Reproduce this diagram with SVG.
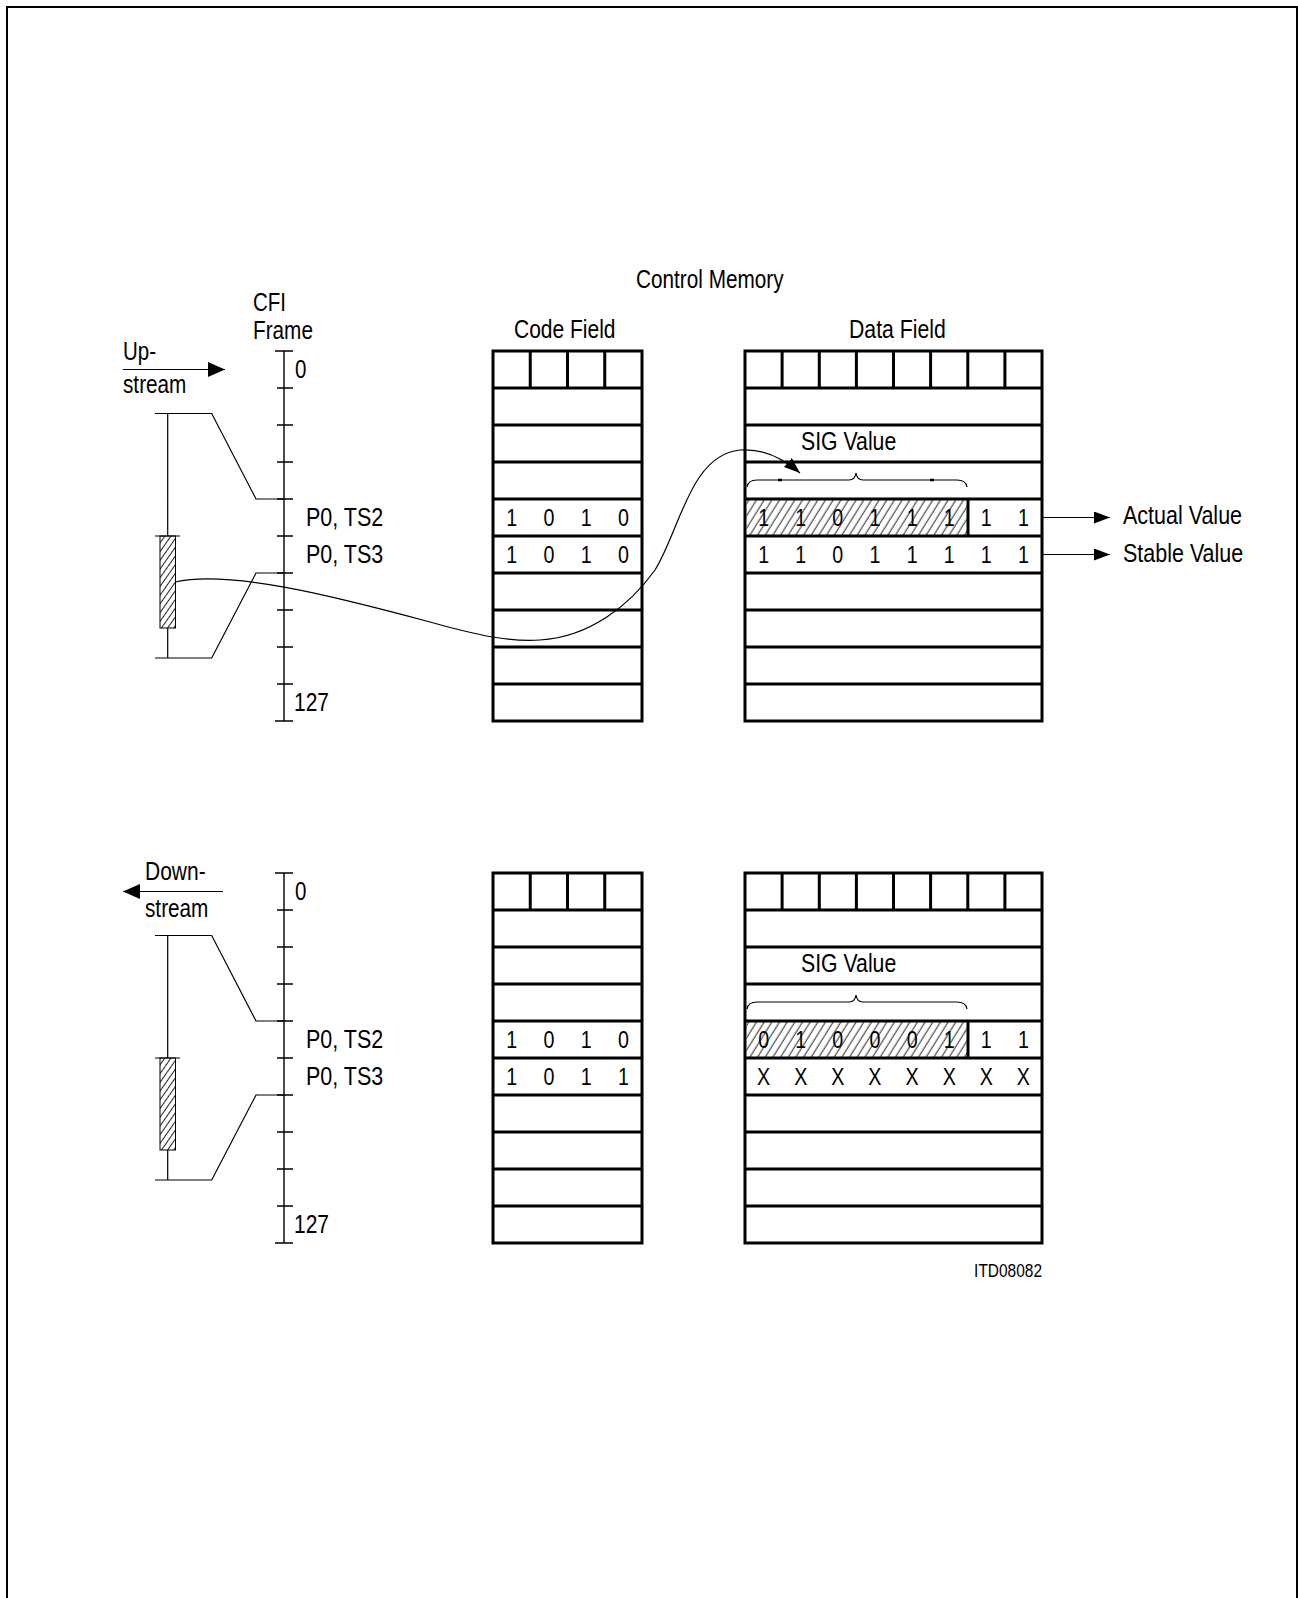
<svg xmlns="http://www.w3.org/2000/svg" width="1298" height="1598" viewBox="0 0 1298 1598">
<style>
.t{font-family:'Liberation Sans',Arial,sans-serif;font-size:25px;fill:#000}
.d{font-family:'Liberation Sans',Arial,sans-serif;font-size:24px;fill:#000;text-anchor:middle}
.box{fill:#fff;stroke:#000;stroke-width:3}
.grid{stroke:#000;stroke-width:3;fill:none}
.thin{stroke:#000;stroke-width:1.2;fill:none}
.ax{stroke:#000;stroke-width:1.4;fill:none}
</style>
<defs>
<pattern id="hatch" patternUnits="userSpaceOnUse" width="6.5" height="6.5" patternTransform="rotate(32)">
<line x1="3" y1="0" x2="3" y2="6.5" stroke="#111" stroke-width="0.9"/>
</pattern>
<pattern id="hatch2" patternUnits="userSpaceOnUse" width="5" height="5" patternTransform="rotate(35)">
<line x1="2.5" y1="0" x2="2.5" y2="5" stroke="#222" stroke-width="1"/>
</pattern>
<marker id="arr" markerUnits="userSpaceOnUse" markerWidth="16" markerHeight="12" refX="16" refY="6" orient="auto">
<path d="M0,0 L16,6 L0,12 z" fill="#000"/>
</marker>
<marker id="arrL" markerUnits="userSpaceOnUse" markerWidth="17" markerHeight="15" refX="17" refY="7.5" orient="auto">
<path d="M0,0 L17,7.5 L0,15 z" fill="#000"/>
</marker>
</defs>
<rect width="1298" height="1598" fill="#fff"/>
<path id="frame" d="M7,1610 V7 H1297 V1610" fill="none" stroke="#000" stroke-width="2"/>

<g id="title">
<text class="t" transform="translate(636,288) scale(.83,1)">Control Memory</text>
</g>

<!-- ===== Upper section ===== -->
<g id="cfi-frame-up">
<text class="t" transform="translate(253,311) scale(.82,1)">CFI</text>
<text class="t" transform="translate(253,339) scale(.83,1)">Frame</text>
<path class="ax" d="M284,351 V721 M275,351 H293 M275,721 H293 M277,388 H293 M277,425 H293 M277,462 H293 M277,499 H293 M277,536 H293 M277,573 H293 M277,610 H293 M277,647 H293 M277,684 H293"/>
<text class="t" transform="translate(295,378) scale(.82,1)">0</text>
<text class="t" transform="translate(294,711) scale(.84,1)">127</text>
<text class="t" transform="translate(306,526) scale(.86,1)">P0, TS2</text>
<text class="t" transform="translate(306,563) scale(.86,1)">P0, TS3</text>
<rect x="160" y="536" width="15.5" height="92" fill="url(#hatch2)" stroke="#000" stroke-width="1"/>
</g>
<g id="upstream-label">
<text class="t" transform="translate(123,360) scale(.82,1)">Up-</text>
<text class="t" transform="translate(123,393) scale(.83,1)">stream</text>
</g>

<g id="code-field-up">
<text class="t" transform="translate(514,338) scale(.84,1)">Code Field</text>
<rect class="box" x="493" y="351" width="149" height="370"/>
<path class="grid" d="M493,388 H642 M493,425 H642 M493,462 H642 M493,499 H642 M493,536 H642 M493,573 H642 M493,610 H642 M493,647 H642 M493,684 H642 M530.25,351 V388 M567.5,351 V388 M604.75,351 V388"/>
<text class="d" transform="translate(511.6,526) scale(.82,1)">1</text><text class="d" transform="translate(548.9,526) scale(.82,1)">0</text><text class="d" transform="translate(586.1,526) scale(.82,1)">1</text><text class="d" transform="translate(623.4,526) scale(.82,1)">0</text>
<text class="d" transform="translate(511.6,563) scale(.82,1)">1</text><text class="d" transform="translate(548.9,563) scale(.82,1)">0</text><text class="d" transform="translate(586.1,563) scale(.82,1)">1</text><text class="d" transform="translate(623.4,563) scale(.82,1)">0</text>
</g>

<g id="data-field-up">
<text class="t" transform="translate(849,338) scale(.85,1)">Data Field</text>
<rect class="box" x="745" y="351" width="297" height="370"/>
<rect x="746.5" y="499" width="221.5" height="37" fill="url(#hatch)"/>
<path class="grid" d="M745,388 H1042 M745,425 H1042 M745,462 H1042 M745,499 H1042 M745,536 H1042 M745,573 H1042 M745,610 H1042 M745,647 H1042 M745,684 H1042 M782.1,351 V388 M819.3,351 V388 M856.4,351 V388 M893.5,351 V388 M930.6,351 V388 M967.8,351 V388 M1004.9,351 V388 M968,499 V536"/>
<text class="t" transform="translate(801,450) scale(.85,1)">SIG Value</text>
<path class="thin" d="M747,487 Q748,480 757,480 H849 Q855,480 856,473 Q857,480 863,480 H957 Q966,480 967,487"/>
<path d="M778,480 H782 M930,480 H934" stroke="#000" stroke-width="2.5"/>
<text class="d" transform="translate(763.6,526) scale(.82,1)">1</text><text class="d" transform="translate(800.7,526) scale(.82,1)">1</text><text class="d" transform="translate(837.8,526) scale(.82,1)">0</text><text class="d" transform="translate(874.9,526) scale(.82,1)">1</text><text class="d" transform="translate(912.1,526) scale(.82,1)">1</text><text class="d" transform="translate(949.2,526) scale(.82,1)">1</text><text class="d" transform="translate(986.3,526) scale(.82,1)">1</text><text class="d" transform="translate(1023.4,526) scale(.82,1)">1</text>
<text class="d" transform="translate(763.6,563) scale(.82,1)">1</text><text class="d" transform="translate(800.7,563) scale(.82,1)">1</text><text class="d" transform="translate(837.8,563) scale(.82,1)">0</text><text class="d" transform="translate(874.9,563) scale(.82,1)">1</text><text class="d" transform="translate(912.1,563) scale(.82,1)">1</text><text class="d" transform="translate(949.2,563) scale(.82,1)">1</text><text class="d" transform="translate(986.3,563) scale(.82,1)">1</text><text class="d" transform="translate(1023.4,563) scale(.82,1)">1</text>
</g>

<g id="outputs">
<text class="t" transform="translate(1123,524) scale(.86,1)">Actual Value</text>
<text class="t" transform="translate(1123,562) scale(.86,1)">Stable Value</text>
</g>

<!-- ===== Lower section ===== -->
<g id="cfi-frame-down" transform="translate(0,522)">
<path class="ax" d="M284,351 V721 M275,351 H293 M275,721 H293 M277,388 H293 M277,425 H293 M277,462 H293 M277,499 H293 M277,536 H293 M277,573 H293 M277,610 H293 M277,647 H293 M277,684 H293"/>
<text class="t" transform="translate(295,378) scale(.82,1)">0</text>
<text class="t" transform="translate(294,711) scale(.84,1)">127</text>
<text class="t" transform="translate(306,526) scale(.86,1)">P0, TS2</text>
<text class="t" transform="translate(306,563) scale(.86,1)">P0, TS3</text>
<rect x="160" y="536" width="15.5" height="92" fill="url(#hatch2)" stroke="#000" stroke-width="1"/>
</g>
<g id="downstream-label">
<text class="t" transform="translate(145,880) scale(.84,1)">Down-</text>
<text class="t" transform="translate(145,917) scale(.83,1)">stream</text>
</g>

<g id="code-field-down" transform="translate(0,522)">
<rect class="box" x="493" y="351" width="149" height="370"/>
<path class="grid" d="M493,388 H642 M493,425 H642 M493,462 H642 M493,499 H642 M493,536 H642 M493,573 H642 M493,610 H642 M493,647 H642 M493,684 H642 M530.25,351 V388 M567.5,351 V388 M604.75,351 V388"/>
<text class="d" transform="translate(511.6,526) scale(.82,1)">1</text><text class="d" transform="translate(548.9,526) scale(.82,1)">0</text><text class="d" transform="translate(586.1,526) scale(.82,1)">1</text><text class="d" transform="translate(623.4,526) scale(.82,1)">0</text>
<text class="d" transform="translate(511.6,563) scale(.82,1)">1</text><text class="d" transform="translate(548.9,563) scale(.82,1)">0</text><text class="d" transform="translate(586.1,563) scale(.82,1)">1</text><text class="d" transform="translate(623.4,563) scale(.82,1)">1</text>
</g>

<g id="data-field-down" transform="translate(0,522)">
<rect class="box" x="745" y="351" width="297" height="370"/>
<rect x="746.5" y="499" width="221.5" height="37" fill="url(#hatch)"/>
<path class="grid" d="M745,388 H1042 M745,425 H1042 M745,462 H1042 M745,499 H1042 M745,536 H1042 M745,573 H1042 M745,610 H1042 M745,647 H1042 M745,684 H1042 M782.1,351 V388 M819.3,351 V388 M856.4,351 V388 M893.5,351 V388 M930.6,351 V388 M967.8,351 V388 M1004.9,351 V388 M968,499 V536"/>
<text class="t" transform="translate(801,450) scale(.85,1)">SIG Value</text>
<path class="thin" d="M747,487 Q748,480 757,480 H849 Q855,480 856,473 Q857,480 863,480 H957 Q966,480 967,487"/>
<text class="d" transform="translate(763.6,526) scale(.82,1)">0</text><text class="d" transform="translate(800.7,526) scale(.82,1)">1</text><text class="d" transform="translate(837.8,526) scale(.82,1)">0</text><text class="d" transform="translate(874.9,526) scale(.82,1)">0</text><text class="d" transform="translate(912.1,526) scale(.82,1)">0</text><text class="d" transform="translate(949.2,526) scale(.82,1)">1</text><text class="d" transform="translate(986.3,526) scale(.82,1)">1</text><text class="d" transform="translate(1023.4,526) scale(.82,1)">1</text>
<text class="d" transform="translate(763.6,563) scale(.82,1)">X</text><text class="d" transform="translate(800.7,563) scale(.82,1)">X</text><text class="d" transform="translate(837.8,563) scale(.82,1)">X</text><text class="d" transform="translate(874.9,563) scale(.82,1)">X</text><text class="d" transform="translate(912.1,563) scale(.82,1)">X</text><text class="d" transform="translate(949.2,563) scale(.82,1)">X</text><text class="d" transform="translate(986.3,563) scale(.82,1)">X</text><text class="d" transform="translate(1023.4,563) scale(.82,1)">X</text>
</g>

<g id="doc-id">
<text class="t" transform="translate(1042,1277) scale(.86,1)" style="font-size:18px;text-anchor:end">ITD08082</text>
</g>

<!-- ===== Connectors ===== -->
<g id="connectors">
<path class="thin" d="M123,369.5 H225" marker-end="url(#arrL)"/>
<path class="thin" d="M155,413.5 H211.7 L256,499 H284 M167.7,413.5 V536 M155,536 H180 M167.7,628 V658 M155,658 H211.7 L256,573 H284"/>
<path class="thin" d="M175,582 C230,570 330,595 430,622 C480,636 510,642 540,640 C590,637 630,605 655,570 C680,530 690,455 740,450 C765,448 785,460 800,473" marker-end="url(#arr)"/>
<path class="thin" d="M1042,517.5 H1110" marker-end="url(#arr)"/>
<path class="thin" d="M1042,554.5 H1110" marker-end="url(#arr)"/>
<path class="thin" d="M223,891.5 H123" marker-end="url(#arrL)"/>
<path class="thin" d="M155,935.5 H211.7 L256,1021 H284 M167.7,935.5 V1058 M155,1058 H180 M167.7,1150 V1180 M155,1180 H211.7 L256,1095 H284"/>
</g>
</svg>
